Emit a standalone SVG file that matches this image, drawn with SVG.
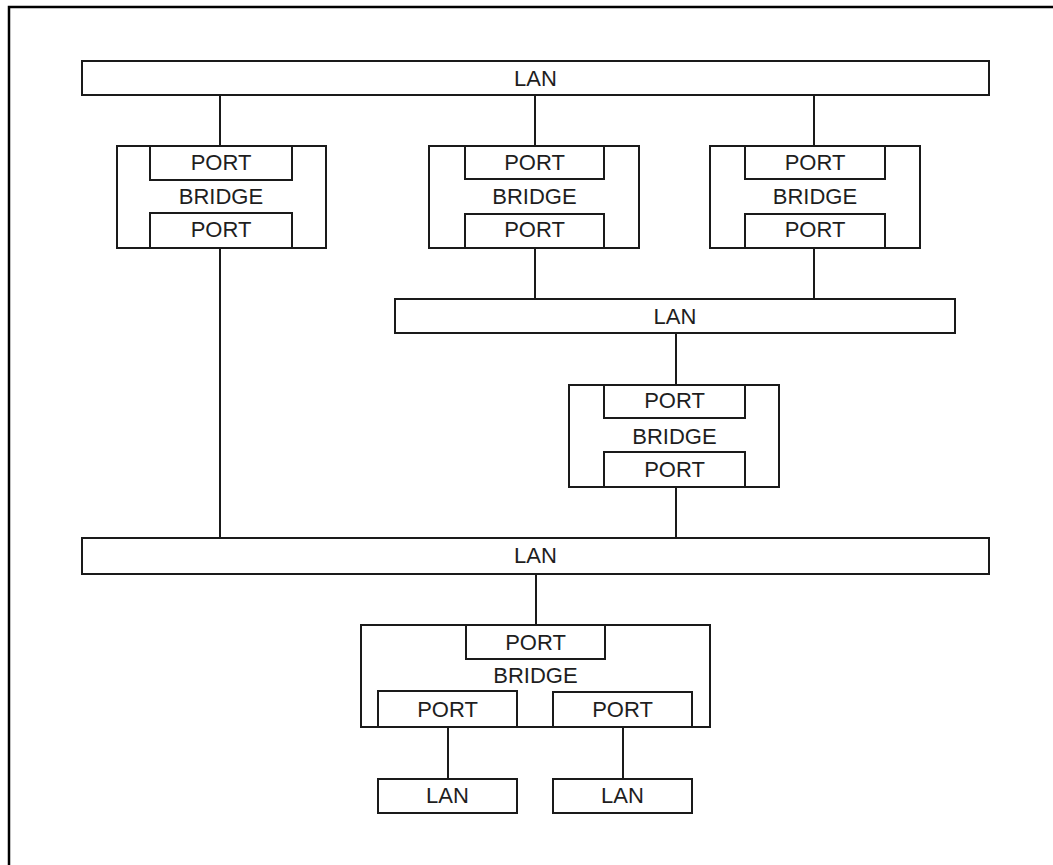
<svg xmlns="http://www.w3.org/2000/svg" width="1053" height="865" viewBox="0 0 1053 865">
<style>
.b{fill:none;stroke:#1a1a1a;stroke-width:2}
.c{fill:none;stroke:#1a1a1a;stroke-width:2}
.t{font-family:"Liberation Sans",Arial,sans-serif;font-size:22px;fill:#1e1e1e;text-anchor:middle}
</style>
<rect width="1053" height="865" fill="#fff"/>
<g id="frame"><path d="M9,865 V7 H1053" fill="none" stroke="#000" stroke-width="2.5"/></g>
<g id="connectors">
<line class="c" x1="220" y1="95" x2="220" y2="146"/>
<line class="c" x1="535" y1="95" x2="535" y2="146"/>
<line class="c" x1="814" y1="95" x2="814" y2="146"/>
<line class="c" x1="535" y1="248" x2="535" y2="299"/>
<line class="c" x1="814" y1="248" x2="814" y2="299"/>
<line class="c" x1="676" y1="333" x2="676" y2="385"/>
<line class="c" x1="676" y1="487" x2="676" y2="538"/>
<line class="c" x1="220" y1="248" x2="220" y2="538"/>
<line class="c" x1="536" y1="574" x2="536" y2="625"/>
<line class="c" x1="448" y1="727" x2="448" y2="779"/>
<line class="c" x1="623" y1="727" x2="623" y2="779"/>
</g>
<g id="lan1"><rect class="b" x="82" y="61" width="907" height="34"/><text class="t" x="535.5" y="86">LAN</text></g>
<g id="bridge1">
<rect class="b" x="117" y="146" width="209" height="102"/>
<rect class="b" x="150" y="146" width="142" height="34"/>
<rect class="b" x="150" y="213" width="142" height="35"/>
<text class="t" x="221" y="170">PORT</text><text class="t" x="221" y="204">BRIDGE</text><text class="t" x="221" y="237">PORT</text>
</g>
<g id="bridge2">
<rect class="b" x="429" y="146" width="210" height="102"/>
<rect class="b" x="465" y="146" width="139" height="33"/>
<rect class="b" x="465" y="214" width="139" height="34"/>
<text class="t" x="534.5" y="170">PORT</text><text class="t" x="534.5" y="204">BRIDGE</text><text class="t" x="534.5" y="237">PORT</text>
</g>
<g id="bridge3">
<rect class="b" x="710" y="146" width="210" height="102"/>
<rect class="b" x="745" y="146" width="140" height="33"/>
<rect class="b" x="745" y="214" width="140" height="34"/>
<text class="t" x="815" y="170">PORT</text><text class="t" x="815" y="204">BRIDGE</text><text class="t" x="815" y="237">PORT</text>
</g>
<g id="lan2"><rect class="b" x="395" y="299" width="560" height="34"/><text class="t" x="675" y="324">LAN</text></g>
<g id="bridge4">
<rect class="b" x="569" y="385" width="210" height="102"/>
<rect class="b" x="604" y="385" width="141" height="33"/>
<rect class="b" x="604" y="452" width="141" height="35"/>
<text class="t" x="674.5" y="408">PORT</text><text class="t" x="674.5" y="444">BRIDGE</text><text class="t" x="674.5" y="477">PORT</text>
</g>
<g id="lan3"><rect class="b" x="82" y="538" width="907" height="36"/><text class="t" x="535.5" y="563">LAN</text></g>
<g id="bridge5">
<rect class="b" x="361" y="625" width="349" height="102"/>
<rect class="b" x="466" y="625" width="139" height="34"/>
<rect class="b" x="378" y="691" width="139" height="36"/>
<rect class="b" x="553" y="692" width="139" height="35"/>
<text class="t" x="535.5" y="650">PORT</text><text class="t" x="535.5" y="683">BRIDGE</text>
<text class="t" x="447.5" y="717">PORT</text><text class="t" x="622.5" y="717">PORT</text>
</g>
<g id="lan4"><rect class="b" x="378" y="779" width="139" height="34"/><text class="t" x="447.5" y="803">LAN</text></g>
<g id="lan5"><rect class="b" x="553" y="779" width="139" height="34"/><text class="t" x="622.5" y="803">LAN</text></g>
</svg>
